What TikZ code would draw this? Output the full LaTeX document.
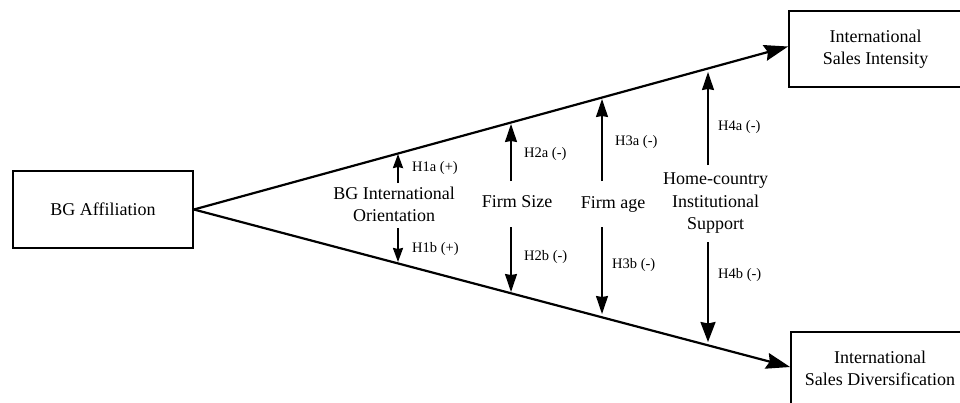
\documentclass[tikz,border=0pt]{standalone}
\usepackage{fontspec}
\setmainfont{Liberation Serif}
\usetikzlibrary{arrows.meta,calc}
\tikzset{
  box/.style={draw, line width=1.8pt, rectangle, inner sep=0pt, align=center,
    font=\fontsize{18}{22.5}\selectfont},
  modtext/.style={inner sep=0pt, align=center, font=\fontsize{18}{22.5}\selectfont},
  hlabel/.style={inner sep=0pt, anchor=west, font=\fontsize{14.5}{17}\selectfont},
  mainarrow/.style={line width=2.2pt, -{Stealth[length=24pt,width=16pt,inset=3pt]}},
  thinarrow/.style={line width=1.5pt, -{Stealth[length=18pt,width=12pt,inset=1pt]}},
  smallarrow/.style={line width=2pt, -{Stealth[length=14pt,width=10pt,inset=1pt]}},
  bigarrow/.style={line width=2.2pt, -{Stealth[length=20pt,width=15pt,inset=1.5pt]}}
}
\begin{document}
\begin{tikzpicture}[x=1pt,y=-1pt]
\useasboundingbox (0,0) rectangle (960,402);
\clip (0,0) rectangle (960,402);
% boxes
\node[box, minimum width=180pt, minimum height=77pt] (bg) at (103,209.5) {BG Affiliation};
\node[box, minimum width=173pt, minimum height=76pt] (top) at (875.5,49) {International\\Sales Intensity};
\node[box, minimum width=178pt, minimum height=73pt] (bot) at (880,368.5) {International\\Sales Diversification};
% main connectors
\draw[mainarrow] (bg.east) -- ([yshift=2.5pt]top.west);
\draw[mainarrow] (bg.east) -- ([yshift=1.5pt]bot.west);
% moderators
\node[modtext] (m1) at (394,204.5) {BG International\\Orientation};
\node[modtext] (m2) at (517,201.7) {Firm Size};
\node[modtext] (m3) at (613,204) {Firm age};
\node[modtext] (m4) at (715.5,203.5) {Home-country\\Institutional\\Support};
% arrow coordinates
\coordinate (s1u) at (398,183); \coordinate (t1u) at (398,154);
\coordinate (s1d) at (398,228); \coordinate (t1d) at (398,262);
\coordinate (s2u) at (511,181); \coordinate (t2u) at (511,124);
\coordinate (s2d) at (511,227); \coordinate (t2d) at (511,292);
\coordinate (s3u) at (602,181); \coordinate (t3u) at (602,99);
\coordinate (s3d) at (602,227); \coordinate (t3d) at (602,314);
\coordinate (s4u) at (708,165); \coordinate (t4u) at (708,72);
\coordinate (s4d) at (708,242); \coordinate (t4d) at (708,342);
\draw[smallarrow] (s1u) -- (t1u);
\draw[smallarrow] (s1d) -- (t1d);
\draw[thinarrow] (s2u) -- (t2u);
\draw[thinarrow] (s2d) -- (t2d);
\draw[thinarrow] (s3u) -- (t3u);
\draw[thinarrow] (s3d) -- (t3d);
\draw[thinarrow] (s4u) -- (t4u);
\draw[bigarrow] (s4d) -- (t4d);
% hypothesis labels
\node[hlabel] (h1a) at (412,168.3) {H1a (+)};
\node[hlabel] (h1b) at (412,249.3) {H1b (+)};
\node[hlabel] (h2a) at (524,154) {H2a (-)};
\node[hlabel] (h2b) at (524,256.7) {H2b (-)};
\node[hlabel] (h3a) at (615,141.7) {H3a (-)};
\node[hlabel] (h3b) at (612,265) {H3b (-)};
\node[hlabel] (h4a) at (718,127) {H4a (-)};
\node[hlabel] (h4b) at (718,275) {H4b (-)};
\end{tikzpicture}
\end{document}
